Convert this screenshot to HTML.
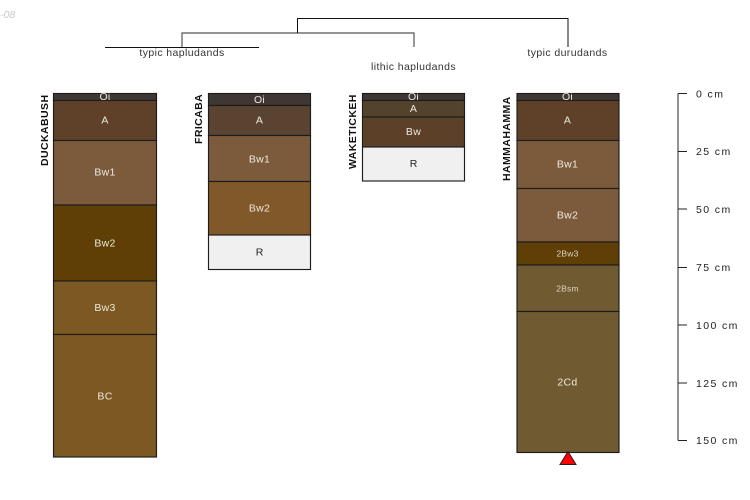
<!DOCTYPE html>
<html><head><meta charset="utf-8">
<style>
html,body{margin:0;padding:0;background:#fff;width:750px;height:500px;overflow:hidden}
svg{display:block}
text{font-family:"Liberation Sans",sans-serif}
.l{font-size:10.5px;fill:#efe8dc;text-anchor:middle;dominant-baseline:central;letter-spacing:.3px}
.s{font-size:8.5px;fill:#dfd5c0;text-anchor:middle;dominant-baseline:central;letter-spacing:.2px}
.d{font-size:10.5px;fill:#222;text-anchor:middle;dominant-baseline:central}
.t{font-size:10.5px;fill:#333;text-anchor:middle;letter-spacing:.4px}
.n{font-size:10.5px;font-weight:bold;fill:#111;letter-spacing:.42px}
.c{font-size:10.5px;fill:#222;letter-spacing:1.4px}
rect{stroke:#1c1c1c;stroke-width:1.15}
</style></head><body>
<svg width="750" height="500" viewBox="0 0 750 500" xmlns="http://www.w3.org/2000/svg">
<text x="0" y="18" font-size="10.5" font-style="italic" fill="#c8c8c8">-08</text>

<g fill="none" stroke="#111" stroke-width="1">
<path d="M105 47.500H259"/>
<path d="M182 47V33H414V47" stroke="#555" stroke-width="1.200"/>
<path d="M297.500 33V18.500H568V47"/>
</g>
<text class="t" x="182" y="56">typic hapludands</text>
<text class="t" x="413.500" y="70">lithic hapludands</text>
<text class="t" x="567.500" y="56">typic durudands</text>

<!-- DUCKABUSH -->
<g>
<rect x="53.500" y="93.500" width="103" height="7" fill="#3f3733"/>
<rect x="53.500" y="100.500" width="103" height="40" fill="#5f4129"/>
<rect x="53.500" y="140.500" width="103" height="64.500" fill="#7c5a3c"/>
<rect x="53.500" y="205" width="103" height="76" fill="#5f3f06"/>
<rect x="53.500" y="281" width="103" height="53.500" fill="#7c5822"/>
<rect x="53.500" y="334.500" width="103" height="122.500" fill="#7c5822"/>
<text class="l" x="105" y="97">Oi</text>
<text class="l" x="105" y="120.500">A</text>
<text class="l" x="105" y="172.500">Bw1</text>
<text class="l" x="105" y="243.500">Bw2</text>
<text class="l" x="105" y="308">Bw3</text>
<text class="l" x="105" y="396.500">BC</text>
<text class="n" transform="translate(48,166) rotate(-90)">DUCKABUSH</text>
</g>

<!-- FRICABA -->
<g>
<rect x="208.500" y="93.500" width="102" height="12" fill="#3f3733"/>
<rect x="208.500" y="105.500" width="102" height="30" fill="#5a4431"/>
<rect x="208.500" y="135.500" width="102" height="46" fill="#7c5a3c"/>
<rect x="208.500" y="181.500" width="102" height="53.500" fill="#80582a"/>
<rect x="208.500" y="235" width="102" height="34.500" fill="#f0f0f0"/>
<text class="l" x="259.500" y="100">Oi</text>
<text class="l" x="259.500" y="120.500">A</text>
<text class="l" x="259.500" y="159.500">Bw1</text>
<text class="l" x="259.500" y="208.500">Bw2</text>
<text class="d" x="259.500" y="252.500">R</text>
<text class="n" transform="translate(202,144) rotate(-90)">FRICABA</text>
</g>

<!-- WAKETICKEH -->
<g>
<rect x="362.500" y="93.500" width="102" height="7" fill="#3f3733"/>
<rect x="362.500" y="100.500" width="102" height="16.500" fill="#54432c"/>
<rect x="362.500" y="117" width="102" height="30" fill="#5c4027"/>
<rect x="362.500" y="147" width="102" height="34" fill="#f0f0f0"/>
<text class="l" x="413.500" y="97">Oi</text>
<text class="l" x="413.500" y="109">A</text>
<text class="l" x="413.500" y="132">Bw</text>
<text class="d" x="413.500" y="164">R</text>
<text class="n" transform="translate(356,169) rotate(-90)">WAKETICKEH</text>
</g>

<!-- HAMMAHAMMA -->
<g>
<rect x="517" y="93.500" width="102" height="7" fill="#3f3733"/>
<rect x="517" y="100.500" width="102" height="40" fill="#5f4129"/>
<rect x="517" y="140.500" width="102" height="48" fill="#7c5a3c"/>
<rect x="517" y="188.500" width="102" height="53.500" fill="#7c5a3c"/>
<rect x="517" y="242" width="102" height="23" fill="#5f3f06"/>
<rect x="517" y="265" width="102" height="46.500" fill="#705a32"/>
<rect x="517" y="311.500" width="102" height="141" fill="#705a32"/>
<text class="l" x="567.500" y="97">Oi</text>
<text class="l" x="567.500" y="120.500">A</text>
<text class="l" x="567.500" y="164.500">Bw1</text>
<text class="l" x="567.500" y="215.500">Bw2</text>
<text class="s" x="567.500" y="253.500">2Bw3</text>
<text class="s" x="567.500" y="288.500">2Bsm</text>
<text class="l" x="567.500" y="382.500">2Cd</text>
<text class="n" transform="translate(510,181) rotate(-90)">HAMMAHAMMA</text>
<polygon points="568,451.500 576,464.500 560,464.500" fill="#f00" stroke="#222" stroke-width="1"/>
</g>

<!-- depth axis -->
<path d="M678 93.500V440.500" stroke="#777" stroke-width="1.600" fill="none"/>
<path d="M678 93.500H687M678 151.500H687M678 209H687M678 267.500H687M678 325H687M678 383H687M678 440.500H687" stroke="#222" stroke-width="1" fill="none"/>
<g>
<text class="c" x="696" y="97.500">0 cm</text>
<text class="c" x="696" y="155">25 cm</text>
<text class="c" x="696" y="213">50 cm</text>
<text class="c" x="696" y="271">75 cm</text>
<text class="c" x="696" y="329">100 cm</text>
<text class="c" x="696" y="387">125 cm</text>
<text class="c" x="696" y="444">150 cm</text>
</g>
</svg>
</body></html>
